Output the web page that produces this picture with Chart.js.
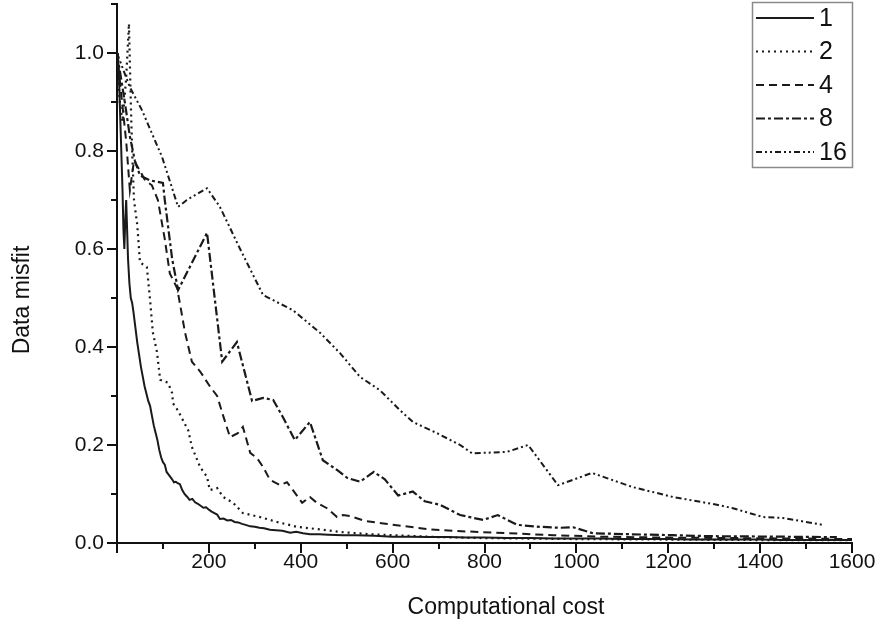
<!DOCTYPE html>
<html>
<head>
<meta charset="utf-8">
<script src="https://cdn.jsdelivr.net/npm/chart.js@4.4.1/dist/chart.umd.min.js"></script>
<style>
  html, body { margin: 0; padding: 0; background: #fff; }
</style>
</head>
<body>
<canvas id="misfitChart" width="882" height="632"></canvas>
<script>
// series labels (number of ...)
const seriesLabels = ['1', '2', '4', '8', '16'];

// x / y tick values
const xTicks = [0, 200, 400, 600, 800, 1000, 1200, 1400, 1600];
const yTicks = [0, 0.2, 0.4, 0.6, 0.8, 1.0];
const xMinorTicks = [100, 300, 500, 700, 900, 1100, 1300, 1500];
const yMinorTicks = [0.1, 0.3, 0.5, 0.7, 0.9, 1.1];

const xTitle = 'Computational cost';
const yTitle = 'Data misfit';

// series "1" (solid)
const cost1 = [0, 2, 4, 6, 8, 10, 12, 14, 16, 18, 20, 22, 24, 27, 30, 33, 36, 40, 44, 48,
  52, 56, 60, 64, 68, 72, 76, 80, 84, 88, 92, 96, 100, 104, 108, 112, 116, 120, 124, 128,
  132, 137, 142, 147, 152, 158, 164, 170, 176, 182, 188, 194, 200, 206, 212, 218, 224, 232, 240, 248,
  256, 264, 272, 280, 290, 300, 310, 320, 333, 346, 360, 377, 390, 405, 420, 440, 460, 492, 520, 560,
  600, 640, 680, 720, 760, 800, 850, 900, 950, 1000, 1050, 1100, 1150, 1200, 1250, 1300, 1350, 1400, 1450, 1500,
  1550, 1600];
const misfit1 = [1.0, 0.99, 0.96, 0.90, 0.84, 0.78, 0.72, 0.64, 0.60, 0.66, 0.70, 0.64, 0.58, 0.53, 0.50, 0.49, 0.47, 0.44, 0.41, 0.385,
  0.36, 0.34, 0.32, 0.305, 0.29, 0.28, 0.26, 0.24, 0.225, 0.21, 0.19, 0.175, 0.165, 0.16, 0.145, 0.14, 0.135, 0.13, 0.124, 0.125,
  0.122, 0.12, 0.108, 0.10, 0.095, 0.088, 0.090, 0.083, 0.080, 0.076, 0.072, 0.073, 0.068, 0.064, 0.061, 0.058, 0.049, 0.05, 0.046, 0.047,
  0.043, 0.042, 0.039, 0.037, 0.034, 0.033, 0.031, 0.030, 0.027, 0.026, 0.025, 0.021, 0.023, 0.020, 0.018, 0.018, 0.017, 0.016, 0.016, 0.015,
  0.013, 0.013, 0.012, 0.012, 0.011, 0.011, 0.010, 0.010, 0.009, 0.009, 0.009, 0.008, 0.008, 0.008, 0.007, 0.007, 0.007, 0.007, 0.006, 0.006,
  0.006, 0.006];

// series "2" (dotted)
const cost2 = [0, 6, 12, 20, 26, 30, 33, 37, 44, 50, 65, 72, 78, 87, 94, 111, 120, 122,
  133, 141, 155, 163, 181, 196, 202, 218, 231, 253, 274, 311, 348, 392, 448, 492, 550, 620, 700, 800,
  900, 1000, 1200, 1400, 1600];
const misfit2 = [1.0, 0.90, 0.86, 0.95, 1.06, 0.90, 0.80, 0.70, 0.65, 0.573, 0.563, 0.496, 0.43, 0.39, 0.333, 0.327, 0.306, 0.285,
  0.27, 0.255, 0.23, 0.196, 0.155, 0.135, 0.108, 0.112, 0.094, 0.082, 0.061, 0.053, 0.043, 0.033, 0.027, 0.022, 0.018, 0.015, 0.012, 0.010,
  0.009, 0.008, 0.007, 0.006, 0.006];

// series "4" (dashed)
const cost4 = [0, 11, 20, 28, 37, 50, 61, 76, 89, 104, 115, 131, 148, 163, 181, 202, 218, 231, 246, 263,
  274, 290, 305, 318, 333, 355, 370, 383, 403, 420, 435, 457, 479, 492, 507, 540, 580, 620, 680, 750,
  850, 950, 1050, 1200, 1350, 1500, 1600];
const misfit4 = [1.0, 0.90, 0.82, 0.72, 0.78, 0.76, 0.74, 0.73, 0.70, 0.62, 0.55, 0.52, 0.43, 0.37, 0.35, 0.32, 0.30, 0.26, 0.216, 0.224,
  0.237, 0.184, 0.173, 0.155, 0.129, 0.118, 0.124, 0.108, 0.082, 0.094, 0.082, 0.071, 0.053, 0.057, 0.055, 0.045, 0.040, 0.035, 0.028, 0.024,
  0.020, 0.016, 0.013, 0.011, 0.010, 0.009, 0.008];

// series "8" (dash-dot)
const cost8 = [0, 17, 28, 39, 50, 72, 100, 104, 120, 133, 196, 229, 261, 294, 318, 340, 361, 387, 420, 448,
  479, 501, 529, 559, 583, 612, 644, 670, 703, 747, 797, 829, 871, 921, 964, 993, 1036, 1110, 1210, 1284,
  1428, 1567];
const misfit8 = [1.0, 0.90, 0.83, 0.78, 0.75, 0.74, 0.735, 0.70, 0.58, 0.516, 0.633, 0.37, 0.41, 0.29, 0.296, 0.292, 0.257, 0.21, 0.247, 0.169,
  0.149, 0.133, 0.125, 0.145, 0.13, 0.097, 0.105, 0.085, 0.078, 0.057, 0.047, 0.057, 0.037, 0.033, 0.031, 0.032, 0.020, 0.018, 0.016, 0.014,
  0.013, 0.012];

// series "16" (dash-dot-dot)
const cost16 = [0, 28, 54, 98, 133, 152, 196, 224, 268, 318, 383, 442, 485, 529, 572, 616, 644, 697, 747, 773,
  849, 895, 960, 1034, 1123, 1210, 1306, 1341, 1406, 1450, 1537];
const misfit16 = [1.0, 0.93, 0.884, 0.788, 0.686, 0.70, 0.724, 0.686, 0.60, 0.506, 0.475, 0.429, 0.388, 0.339, 0.312, 0.271, 0.247, 0.224, 0.20, 0.183,
  0.186, 0.20, 0.118, 0.143, 0.114, 0.094, 0.078, 0.071, 0.053, 0.051, 0.037];

const allCost = [cost1, cost2, cost4, cost8, cost16];
const allMisfit = [misfit1, misfit2, misfit4, misfit8, misfit16];
const dashes = [[], [2, 4], [8, 5], [9, 3, 3, 3], [6, 3, 2, 3, 2, 3]];
const widths = [2, 2.2, 2, 2.2, 2];

const lineColor = '#1a1a1a';
const fontFamily = '"Liberation Sans", Arial, sans-serif';

const datasets = seriesLabels.map(function(lbl, i) {
  return {
    label: lbl,
    data: allCost[i].map(function(c, j) { return { x: c, y: allMisfit[i][j] }; }),
    borderColor: lineColor,
    borderWidth: widths[i],
    borderDash: dashes[i],
    pointRadius: 0,
    tension: 0,
    fill: false
  };
});

// outward major/minor tick marks like the original plot
const axisTicks = {
  id: 'axisTicks',
  afterDraw(chart) {
    const ctx = chart.ctx;
    const xs = chart.scales.x, ys = chart.scales.y;
    const area = chart.chartArea;
    ctx.save();
    ctx.strokeStyle = '#111';
    ctx.lineWidth = 2;
    ctx.beginPath();
    xTicks.forEach(function(v) {
      const px = Math.round(xs.getPixelForValue(v));
      ctx.moveTo(px, area.bottom); ctx.lineTo(px, area.bottom + 10);
    });
    xMinorTicks.forEach(function(v) {
      const px = Math.round(xs.getPixelForValue(v));
      ctx.moveTo(px, area.bottom); ctx.lineTo(px, area.bottom + 6);
    });
    yTicks.forEach(function(v) {
      const py = Math.round(ys.getPixelForValue(v));
      ctx.moveTo(area.left, py); ctx.lineTo(area.left - 10, py);
    });
    yMinorTicks.forEach(function(v) {
      const py = Math.round(ys.getPixelForValue(v));
      ctx.moveTo(area.left, py); ctx.lineTo(area.left - 6, py);
    });
    ctx.stroke();

    // axis titles, a bit off-centre as in the original
    ctx.fillStyle = '#111';
    ctx.font = '23px ' + fontFamily;
    ctx.textAlign = 'center';
    ctx.textBaseline = 'middle';
    ctx.fillText(xTitle, 506, 608);
    ctx.translate(23, 300);
    ctx.rotate(-Math.PI / 2);
    ctx.fillText(yTitle, 0, 0);
    ctx.restore();
  }
};

// boxed legend in the upper right corner
const boxLegend = {
  id: 'boxLegend',
  afterDraw(chart) {
    const ctx = chart.ctx;
    const bx = 752, by = 2, bw = 100, bh = 165;
    ctx.save();
    ctx.fillStyle = '#fff';
    ctx.fillRect(bx, by, bw, bh);
    ctx.strokeStyle = '#8a8a8a';
    ctx.lineWidth = 1.5;
    ctx.strokeRect(bx + 0.5, by + 0.5, bw, bh);
    chart.data.datasets.forEach(function(ds, i) {
      const y = 18 + i * 33.5;
      ctx.setLineDash(ds.borderDash);
      ctx.lineWidth = ds.borderWidth;
      ctx.strokeStyle = ds.borderColor;
      ctx.beginPath();
      ctx.moveTo(756, y);
      ctx.lineTo(814, y);
      ctx.stroke();
      ctx.setLineDash([]);
      ctx.fillStyle = '#111';
      ctx.font = '25px ' + fontFamily;
      ctx.textBaseline = 'middle';
      ctx.textAlign = 'left';
      ctx.fillText(ds.label, 819, y + 1);
    });
    ctx.restore();
  }
};

function noEdgePadding(scale) {
  scale.paddingTop = 0;
  scale.paddingBottom = 0;
  scale.paddingLeft = 0;
  scale.paddingRight = 0;
}

const ctx = document.getElementById('misfitChart').getContext('2d');
const chart = new Chart(ctx, {
  type: 'line',
  data: { datasets: datasets },
  plugins: [axisTicks, boxLegend],
  options: {
    responsive: false,
    animation: false,
    layout: { padding: { top: 4, right: 30, left: 0, bottom: 0 } },
    plugins: {
      legend: { display: false },
      tooltip: { enabled: false }
    },
    scales: {
      x: {
        type: 'linear',
        min: 0,
        max: 1600,
        afterFit: function(scale) { scale.height = 89; noEdgePadding(scale); },
        afterBuildTicks: function(scale) {
          scale.ticks = xTicks.map(function(v) { return { value: v }; });
        },
        ticks: {
          autoSkip: false,
          maxRotation: 0,
          padding: 7,
          color: '#111',
          font: { family: fontFamily, size: 21 },
          callback: function(v) { return v === 0 ? '' : String(v); }
        },
        grid: { display: false, drawTicks: false },
        border: { display: true, color: '#111', width: 2 },
        title: { display: false }
      },
      y: {
        type: 'linear',
        min: 0,
        max: 1.1,
        afterFit: function(scale) { scale.width = 117; noEdgePadding(scale); },
        afterBuildTicks: function(scale) {
          scale.ticks = yTicks.map(function(v) { return { value: v }; });
        },
        ticks: {
          autoSkip: false,
          padding: 13,
          color: '#111',
          font: { family: fontFamily, size: 21 },
          callback: function(v) { return Number(v).toFixed(1); }
        },
        grid: { display: false, drawTicks: false },
        border: { display: true, color: '#111', width: 2 },
        title: { display: false }
      }
    }
  }
});
</script>
</body>
</html>
